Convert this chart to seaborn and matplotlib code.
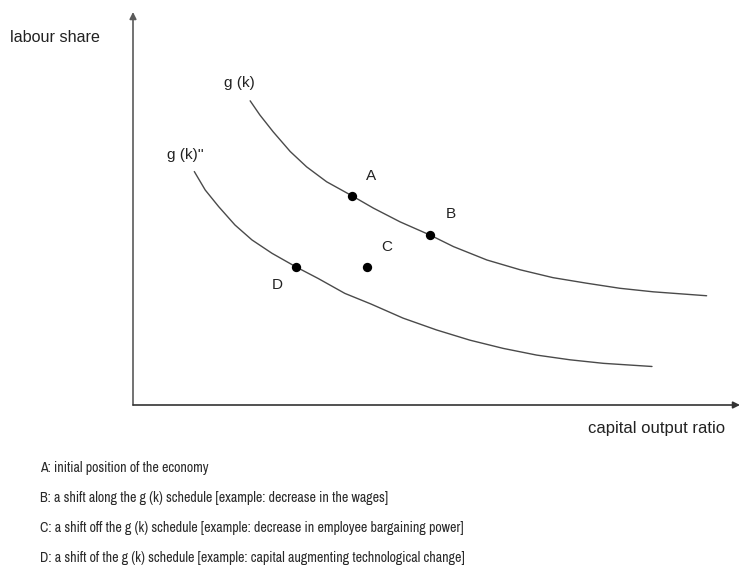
import matplotlib
matplotlib.use('Agg')
import matplotlib.pyplot as plt
import seaborn as sns
import pandas as pd

# curves (capital output ratio k, labour share)
upper_k = [1.93, 2.09, 2.31, 2.59, 2.86, 3.19, 3.60, 3.96, 4.40, 4.90, 5.28, 5.83,
           6.38, 6.92, 7.47, 8.02, 8.57, 9.45]
upper_share = [7.74, 7.38, 6.95, 6.45, 6.06, 5.68, 5.33, 5.01, 4.66, 4.32, 4.03, 3.69,
               3.44, 3.24, 3.10, 2.97, 2.88, 2.78]
lower_k = [1.01, 1.19, 1.41, 1.68, 1.96, 2.29, 2.69, 3.05, 3.49, 3.92, 4.45, 5.00,
           5.55, 6.10, 6.65, 7.20, 7.75, 8.55]
lower_share = [5.94, 5.47, 5.05, 4.58, 4.20, 3.86, 3.51, 3.22, 2.84, 2.57, 2.21, 1.91,
               1.65, 1.44, 1.27, 1.15, 1.06, 0.98]

point_names = ['A', 'B', 'C', 'D']
point_k = [3.60, 4.90, 3.86, 2.69]
point_share = [5.32, 4.32, 3.52, 3.52]

curve_names = ['g (k)', "g (k)''"]
curve_label_k = [1.76, 0.87]
curve_label_share = [8.19, 6.36]

captions = [
    'A: initial position of the economy',
    'B: a shift along the g (k) schedule [example: decrease in the wages]',
    'C: a shift off the g (k) schedule [example: decrease in employee bargaining power]',
    'D: a shift of the g (k) schedule [example: capital augmenting technological change]',
]

sns.set_style('white')
plt.rcParams['font.family'] = ['Liberation Sans', 'DejaVu Sans']

W, H = 742, 569
fig = plt.figure(figsize = (W / 100, H / 100), dpi = 100)
ax = fig.add_axes([133 / W, 1 - 405 / H, (740 - 133) / W, (405 - 12) / H])
ax.set_xlim(0, 10)
ax.set_ylim(0, 10)
ax.axis('off')

curves = pd.concat([
    pd.DataFrame({'k': upper_k, 'share': upper_share, 'curve': curve_names[0]}),
    pd.DataFrame({'k': lower_k, 'share': lower_share, 'curve': curve_names[1]}),
])
sns.lineplot(data = curves, x = 'k', y = 'share', units = 'curve', estimator = None,
             sort = False, color = '#4a4a4a', linewidth = 1.0, ax = ax)

points = pd.DataFrame({'name': point_names, 'k': point_k, 'share': point_share})
sns.scatterplot(data = points, x = 'k', y = 'share', color = 'black', s = 45,
                edgecolor = 'black', linewidth = 0, ax = ax, zorder = 5)

offsets = {'A': (14, 14), 'B': (15, 15), 'C': (14, 14), 'D': (-14, -13)}
for name, k, share in zip(point_names, point_k, point_share):
    ax.annotate(name, (k, share), xytext = offsets[name], textcoords = 'offset points',
                ha = 'center', va = 'center', fontsize = 11, color = '#222222')

for name, k, share in zip(curve_names, curve_label_k, curve_label_share):
    ax.text(k, share, name, ha = 'center', va = 'center', fontsize = 11, color = '#222222')

# axes with arrow heads
ax.annotate('', xy = (0, 1), xytext = (0, 0), xycoords = 'axes fraction',
            arrowprops = dict(arrowstyle = '-|>', color = '#5a5a5a', lw = 1.2,
                              mutation_scale = 10, shrinkA = 0, shrinkB = 0))
ax.annotate('', xy = (1, 0), xytext = (0, 0), xycoords = 'axes fraction',
            arrowprops = dict(arrowstyle = '-|>', color = '#333333', lw = 1.2,
                              mutation_scale = 10, shrinkA = 0, shrinkB = 0))

fig.text(55 / W, 1 - 38 / H, 'labour share', ha = 'center', va = 'center',
         fontsize = 11.6, color = '#222222')
fig.text(657 / W, 1 - 428 / H, 'capital output ratio', ha = 'center', va = 'center',
         fontsize = 12, color = '#222222')

# legend lines below the chart, narrow face sized so the longest line is ~425 px wide
cap_texts = []
for i, line in enumerate(captions):
    cap_texts.append(fig.text(40 / W, 1 - (468 + 30 * i) / H, line, ha = 'left', va = 'center',
                              fontsize = 11, color = '#2a2a2a',
                              family = ['Archivo Narrow', 'Roboto Condensed', 'Liberation Sans']))
renderer = fig.canvas.get_renderer()
widest = max(t.get_window_extent(renderer).width for t in cap_texts)
for t in cap_texts:
    t.set_fontsize(11 * 425 / widest)

fig.savefig('out.png', dpi = 100)
